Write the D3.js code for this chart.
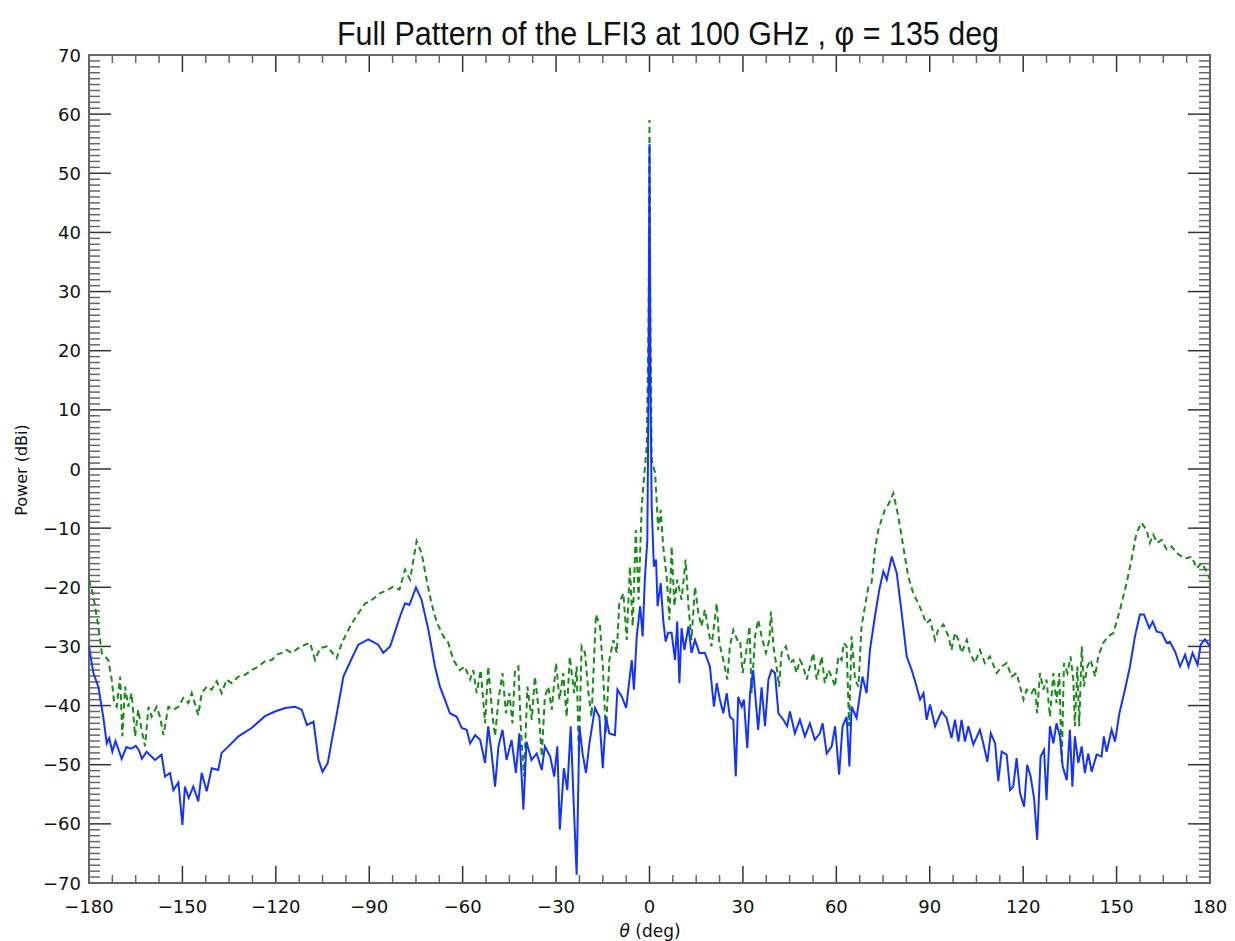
<!DOCTYPE html>
<html>
<head>
<meta charset="utf-8">
<script src="https://cdn.jsdelivr.net/npm/d3@7"></script>
<style>
  body { margin: 0; background: #fff; }
  svg { display: block; }
</style>
</head>
<body>
<svg id="chart" width="1235" height="941"></svg>
<script>
// solid blue curve (theta in deg, power in dBi)
var blueTheta = [-180,-178.6,-177,-175.4,-174.3,-173.5,-172.5,-171.5,-170.5,-169.5,-168,-166.5,-165,-164,-163,-161.5,-158.8,-156.7,-155.6,-154,-152.9,-151.3,-150,-149.2,-148,-146.5,-144.9,-143.8,-142.2,-140.6,-138.5,-137.4,-135.2,-132,-127.8,-123.5,-120.3,-117,-113.8,-111.7,-110,-107.9,-106.3,-105,-103.3,-102,-100.4,-98.3,-95.6,-93.5,-90.3,-87.1,-85.5,-83.3,-81.7,-80.1,-78.5,-77.1,-75,-73.2,-71,-68.9,-67.3,-65.7,-64.1,-61.9,-60.3,-58.7,-57.6,-56,-54.4,-52.8,-51.8,-50.7,-49.6,-48.5,-47.2,-45.9,-44.3,-42.9,-41.8,-40.5,-39.5,-37.9,-36.2,-34.6,-33.6,-31.9,-30.6,-29.6,-28.8,-27.5,-26.4,-25.3,-24.3,-23.4,-22.5,-21.5,-20.4,-19.3,-17.5,-16.1,-15,-14,-12.9,-11.1,-10.3,-8.9,-7.5,-5.7,-5,-4.1,-3,-2.2,-1.5,-0.7,-0.3,0,0.3,0.7,1.4,2.1,2.6,3.6,4.4,5.2,6,7.1,8.2,8.9,9.6,10.3,11.2,12.5,13.5,14.6,16,17.8,19.4,20.7,21.6,22.6,23.7,24.8,25.8,26.9,27.7,28.5,29.6,30.3,31.4,32.3,33.3,34.9,36,37.1,38.2,39.2,40.3,41.4,43,44.2,45.1,46.7,48.3,49.9,51.5,53.1,54.7,55.6,56.9,58.5,59.6,60.9,62,63.3,64.2,64.9,66.5,68.4,69.7,70.8,72.4,73.8,75.1,76.2,77.8,79.4,81,82.6,84.2,85.3,86.9,88,89,90.1,91.7,93.8,95.4,97,98.1,99.2,100.2,101.3,102.4,104,106.1,107.2,108.5,109.6,111,112,113.1,114.7,115.8,116.8,117.9,119,120.3,121.3,122.4,123.5,124.5,125.6,126.7,127.5,128.6,129.7,130.7,131.8,132.7,134,135,135.8,136.6,137.7,138.8,139.8,140.9,142,143.6,145.2,145.9,146.8,148.4,149.5,150.9,152.7,154.3,155.9,157.5,158.8,160.5,161.6,162.9,164.5,166.1,167.1,168.8,170.4,172,173.1,174.4,176,177,178.4,180];
var bluePower = [-30,-34.5,-36.8,-42,-46.4,-45.5,-47.8,-46,-47.5,-49,-47,-47.3,-46.8,-47.5,-49,-47.8,-49.2,-48.3,-52,-51.4,-54.3,-53,-60.2,-53.7,-55.6,-53.7,-56.2,-51.4,-54.5,-50.6,-50.9,-48,-46.9,-45.2,-43.8,-41.8,-41,-40.4,-40.2,-40.7,-43.3,-42.7,-49.2,-51.2,-49.7,-45.8,-41.3,-35.1,-32,-29.7,-28.8,-29.7,-31.1,-30,-27.5,-24.9,-22.7,-23,-20,-22.1,-27.2,-33.4,-36.8,-39,-41.3,-41.9,-43.8,-44.1,-46.4,-45,-45.8,-49.7,-43.5,-48.1,-53.7,-46.9,-44.1,-49.2,-45.8,-51.4,-44.7,-57.6,-46.1,-49.2,-48.1,-50.9,-46.9,-48.6,-52,-46.9,-61,-50.6,-54.3,-43.5,-57.1,-68.6,-43.5,-48.1,-51.4,-46.4,-40.4,-41.9,-50.6,-41.9,-44.7,-45,-37.3,-38.5,-40.4,-32.3,-37.3,-28.3,-23.2,-28.3,-18.7,-12,15,55,15,-6.3,-16.5,-15.3,-23.2,-19.3,-25.5,-29.2,-27.7,-27.7,-32.3,-25.8,-36.2,-26.9,-30.6,-26.6,-31.1,-28.9,-31.1,-31.1,-33.4,-40.2,-36.2,-39,-41.3,-37.9,-41.9,-42.4,-52,-38.5,-40.2,-39,-47.2,-37.9,-34,-44.1,-36.9,-43.5,-35.6,-34,-34.5,-41.3,-42.4,-43.5,-41,-44.7,-42.4,-45.2,-43,-45.8,-44.7,-43,-48.1,-46.9,-43.5,-51.7,-43.5,-41.9,-50.3,-40.2,-42.1,-35.1,-37.9,-30.6,-24.9,-20.4,-17.3,-18.7,-14.8,-17.6,-24.4,-31.7,-34,-35.9,-39,-37.9,-42.4,-39.8,-43.5,-41,-42.1,-45.5,-42.4,-46.1,-42.4,-46.1,-43.5,-46.6,-44.1,-46.4,-49.5,-44.7,-46.4,-52.8,-47.8,-48.3,-54.3,-53.7,-48.9,-54.8,-57.1,-50,-52,-55.7,-62.7,-48.6,-47.5,-56,-43.5,-46.4,-43,-45.2,-50.3,-52.6,-44.1,-53.7,-45.2,-49.7,-46.9,-51.4,-48.1,-51.2,-48.3,-48.6,-45.2,-47.8,-44.1,-46.1,-41.3,-37.3,-33.4,-28.3,-24.6,-24.6,-26.9,-25.8,-27.5,-27.7,-29.4,-29.2,-30.9,-33.4,-31.4,-33.4,-31.1,-33.1,-29.7,-28.8,-30];

// dashed green curve
var greenTheta = [-180,-178.6,-177,-175.9,-173.8,-172.7,-171.9,-171.1,-170,-169.3,-168.4,-167.4,-166.3,-165.2,-164.2,-163.1,-162,-160.9,-159.9,-158.3,-157.2,-156.1,-154.5,-152.9,-151.3,-149.7,-148.1,-147,-144.9,-143.8,-142.2,-140.6,-139,-137.4,-135.8,-134.2,-132,-129.9,-127.8,-125.6,-123.5,-121.3,-119.7,-118.1,-116.5,-114.9,-112.8,-110.6,-109,-107.4,-105.8,-103.7,-102.1,-100.5,-98.8,-97.2,-95.6,-93.5,-91.3,-89.8,-86.5,-83.9,-82.3,-80.3,-78.5,-76.9,-74.8,-73.2,-71.6,-70,-68.4,-66.2,-64.6,-63,-60.9,-59.3,-57.6,-56.6,-55.5,-54.2,-52.8,-51.8,-50.5,-49.6,-48.5,-47.2,-46.1,-45,-44,-43.2,-42.1,-41.4,-40.3,-39.2,-37.8,-36.8,-35.7,-34.6,-33.6,-32.5,-31.4,-30,-28.9,-27.7,-26.6,-25.6,-24.2,-23.4,-22.7,-21.8,-20.7,-19.6,-18.6,-17.2,-15.9,-15,-14,-12.9,-11.6,-10.5,-9.7,-8.4,-7.3,-6.3,-5.4,-4.4,-3.5,-2.5,-1.8,-0.9,-0.3,0,0.3,0.7,1.8,2.8,3.6,4.4,5.5,6.4,7.1,8,8.9,10.3,11.6,12.5,13.5,14.6,15.7,16.7,17.8,18.9,19.9,21.6,22.4,23.7,25,25.8,26.9,28.2,29.1,29.9,31,32.1,32.8,33.9,34.9,36,37.4,38.5,39,39.8,40.8,41.6,42.4,43.8,45.1,46.2,47.2,48.3,49.4,50.5,51.5,52.6,53.7,55.3,56.3,57.4,58.5,59.6,60.6,61.7,62.4,63.3,64.1,64.9,66,67.1,68.1,69.2,70.3,71.3,72.4,73.5,74.5,75.6,76.7,78.3,79.9,81.5,83.1,84.7,86.3,87.7,88.8,90.1,91.7,92.7,94.4,96,97,98.1,99.2,100.2,101.9,102.9,104.5,106.1,107.7,109.3,111.5,113.1,114.7,116.3,117.9,119,120.1,121.1,122.7,123.8,124.5,125.4,126.5,127.5,128.6,129.7,130.7,131.6,132.4,133.1,134.2,135.2,136.1,136.6,137.4,138,138.8,139.5,140.6,141.7,143.1,144.1,145.7,147.3,149,151.1,153.2,154.8,156.4,158,159.6,160.7,161.8,163,164.5,166.1,167.7,169.3,170.9,172.5,174.1,175.7,177.3,178.9,180];
var greenPower = [-18.7,-21.5,-26.6,-31.1,-32.3,-35.6,-39.6,-40.2,-35.1,-45.2,-36.8,-40.2,-37.9,-45.2,-40.7,-44.1,-46.9,-40.2,-41.9,-40.2,-41.9,-45,-40.2,-40.7,-40.2,-38.7,-39.6,-37.9,-41.6,-37.9,-36.8,-37.3,-35.9,-37.9,-35.6,-36.2,-35.1,-34.8,-34,-33.4,-32.5,-32.3,-31.4,-31.1,-30.6,-31.1,-30.3,-29.7,-29.4,-32.3,-30.3,-30,-30.9,-32,-29.4,-27.7,-26.1,-24.4,-22.7,-22.4,-21,-20.4,-19.9,-20.4,-17,-18.7,-12.2,-14.2,-18.7,-22.7,-25.8,-28.3,-29.4,-32.3,-34,-33.4,-35.6,-34,-37.9,-34,-43,-33.4,-41.3,-45.2,-39,-34.5,-41.3,-37.9,-43,-34,-33.4,-43,-52,-36.8,-42.4,-35.1,-40.2,-48.6,-38.5,-36.8,-40.7,-32.8,-39,-34.5,-41.9,-31.7,-37.9,-33.4,-48.1,-30,-31.1,-37.9,-41.9,-24.6,-26.6,-33.4,-44.7,-32.3,-28.9,-31.1,-22.7,-21,-28.9,-16.5,-26.6,-10.3,-22.1,-6.3,-1.8,3.8,25,59,25,1.6,-0.7,-10.3,-6.9,-13.1,-18.2,-25.5,-13.1,-23.2,-18.7,-22.1,-15.3,-23.2,-28.9,-19.9,-24.4,-26.6,-23.8,-27.2,-30,-22.7,-29.4,-32.3,-35.6,-30,-27.2,-28.9,-28.9,-34.5,-31.1,-26.6,-37.9,-28.3,-25.5,-28.3,-31.1,-28.9,-24.1,-30,-33.4,-36.8,-31.1,-30,-32.8,-32.3,-34.5,-32.3,-33.4,-35.6,-33.4,-31.1,-35.6,-31.7,-36.2,-34,-35.1,-36.8,-31.7,-32.3,-29.4,-30,-43.5,-28.3,-35.6,-36.8,-26.6,-23.2,-19.9,-19.3,-13.6,-10.3,-8.6,-6.9,-6,-4.1,-8,-13.1,-18.2,-21,-22.7,-24.4,-26.1,-25.5,-28.9,-27.2,-26.3,-28.3,-30.6,-27.7,-28.9,-31.1,-28.9,-31.1,-32.8,-30.6,-32.8,-31.7,-34.5,-33.4,-32.8,-35.1,-34.5,-36.8,-39,-37.3,-37.9,-36.8,-41.3,-34.5,-37.3,-35.6,-41.9,-34.5,-39.6,-34.5,-49.7,-32.8,-34.5,-31.7,-35.6,-43.5,-33.4,-43.5,-30,-36.8,-33.4,-32.3,-35.1,-31.7,-29.4,-28.3,-27.7,-23.8,-19.3,-15.3,-10.8,-9.1,-10.3,-12.5,-11.1,-12.5,-12,-13.6,-13.1,-14.2,-14.8,-15.1,-14.8,-16.8,-15.9,-17.3,-18.7];

var xTicks = [-180, -150, -120, -90, -60, -30, 0, 30, 60, 90, 120, 150, 180];
var yTicks = [-70, -60, -50, -40, -30, -20, -10, 0, 10, 20, 30, 40, 50, 60, 70];

var titleText = "Full Pattern of the LFI3 at 100 GHz , \u03C6 = 135 deg";

var svg = d3.select("#chart");
var plotLeft = 89, plotRight = 1210, plotTop = 55, plotBottom = 883;

var x = d3.scaleLinear().domain([-180, 180]).range([plotLeft, plotRight]);
var y = d3.scaleLinear().domain([-70, 70]).range([plotBottom, plotTop]);

var axisColor = "#666";

// minor ticks
var xMinor = d3.range(-180, 180.01, 7.5);
var yMinor = d3.range(-70, 70.01, 1);

var ticks = svg.append("g").attr("stroke-width", 1.5);

xMinor.forEach(function (v) {
    var major = xTicks.indexOf(v) !== -1;
    var len = major ? 17 : 8;
    ticks.append("line").attr("x1", x(v)).attr("x2", x(v)).attr("y1", plotBottom).attr("y2", plotBottom - len)
        .attr("stroke", major ? "#333" : axisColor);
    ticks.append("line").attr("x1", x(v)).attr("x2", x(v)).attr("y1", plotTop).attr("y2", plotTop + len)
        .attr("stroke", major ? "#333" : axisColor);
});
yMinor.forEach(function (v) {
    var major = yTicks.indexOf(v) !== -1;
    var len = major ? 22 : 11;
    ticks.append("line").attr("x1", plotLeft).attr("x2", plotLeft + len).attr("y1", y(v)).attr("y2", y(v))
        .attr("stroke", major ? "#333" : axisColor);
    ticks.append("line").attr("x1", plotRight).attr("x2", plotRight - len).attr("y1", y(v)).attr("y2", y(v))
        .attr("stroke", major ? "#333" : axisColor);
});

// frame
svg.append("rect")
    .attr("x", plotLeft).attr("y", plotTop)
    .attr("width", plotRight - plotLeft).attr("height", plotBottom - plotTop)
    .attr("fill", "none").attr("stroke", axisColor).attr("stroke-width", 2);

// tick labels
function fmt(v) { return v < 0 ? "\u2212" + Math.abs(v) : "" + v; }

svg.append("g").selectAll("text").data(xTicks).enter().append("text")
    .attr("x", function (d) { return x(d); })
    .attr("y", 913)
    .attr("text-anchor", "middle")
    .attr("font-family", "DejaVu Sans, sans-serif")
    .attr("font-size", 18)
    .attr("fill", "#111")
    .text(fmt);

svg.append("g").selectAll("text").data(yTicks).enter().append("text")
    .attr("x", 81)
    .attr("y", function (d) { return y(d) + 6.5; })
    .attr("text-anchor", "end")
    .attr("font-family", "DejaVu Sans, sans-serif")
    .attr("font-size", 18)
    .attr("fill", "#111")
    .text(fmt);

// curves
svg.append("clipPath").attr("id", "plotclip").append("rect")
    .attr("x", plotLeft).attr("y", plotTop)
    .attr("width", plotRight - plotLeft).attr("height", plotBottom - plotTop);

function toPoints(th, pw) {
    return th.map(function (t, i) { return [t, pw[i]]; });
}

var line = d3.line()
    .x(function (d) { return x(d[0]); })
    .y(function (d) { return y(d[1]); });

svg.append("path")
    .datum(toPoints(greenTheta, greenPower))
    .attr("clip-path", "url(#plotclip)")
    .attr("fill", "none")
    .attr("stroke", "#1a8a1a")
    .attr("stroke-width", 2)
    .attr("stroke-dasharray", "6,4")
    .attr("d", line);

svg.append("path")
    .datum(toPoints(blueTheta, bluePower))
    .attr("clip-path", "url(#plotclip)")
    .attr("fill", "none")
    .attr("stroke", "#1433ff")
    .attr("stroke-width", 2)
    .attr("d", line);

// title and axis labels
svg.append("text")
    .attr("x", 668).attr("y", 45)
    .attr("text-anchor", "middle")
    .attr("font-family", "Liberation Sans, Arial, sans-serif")
    .attr("font-size", 33)
    .attr("textLength", 662)
    .attr("lengthAdjust", "spacingAndGlyphs")
    .attr("fill", "#111")
    .text(titleText);

var xl = svg.append("text")
    .attr("x", 650).attr("y", 937)
    .attr("text-anchor", "middle")
    .attr("font-family", "DejaVu Sans, sans-serif")
    .attr("font-size", 17)
    .attr("fill", "#111");
xl.append("tspan").attr("font-style", "italic").text("\u03B8");
xl.append("tspan").text(" (deg)");

svg.append("text")
    .attr("transform", "translate(27,470) rotate(-90)")
    .attr("text-anchor", "middle")
    .attr("font-family", "DejaVu Sans, sans-serif")
    .attr("font-size", 16)
    .attr("fill", "#111")
    .text("Power (dBi)");
</script>
</body>
</html>
